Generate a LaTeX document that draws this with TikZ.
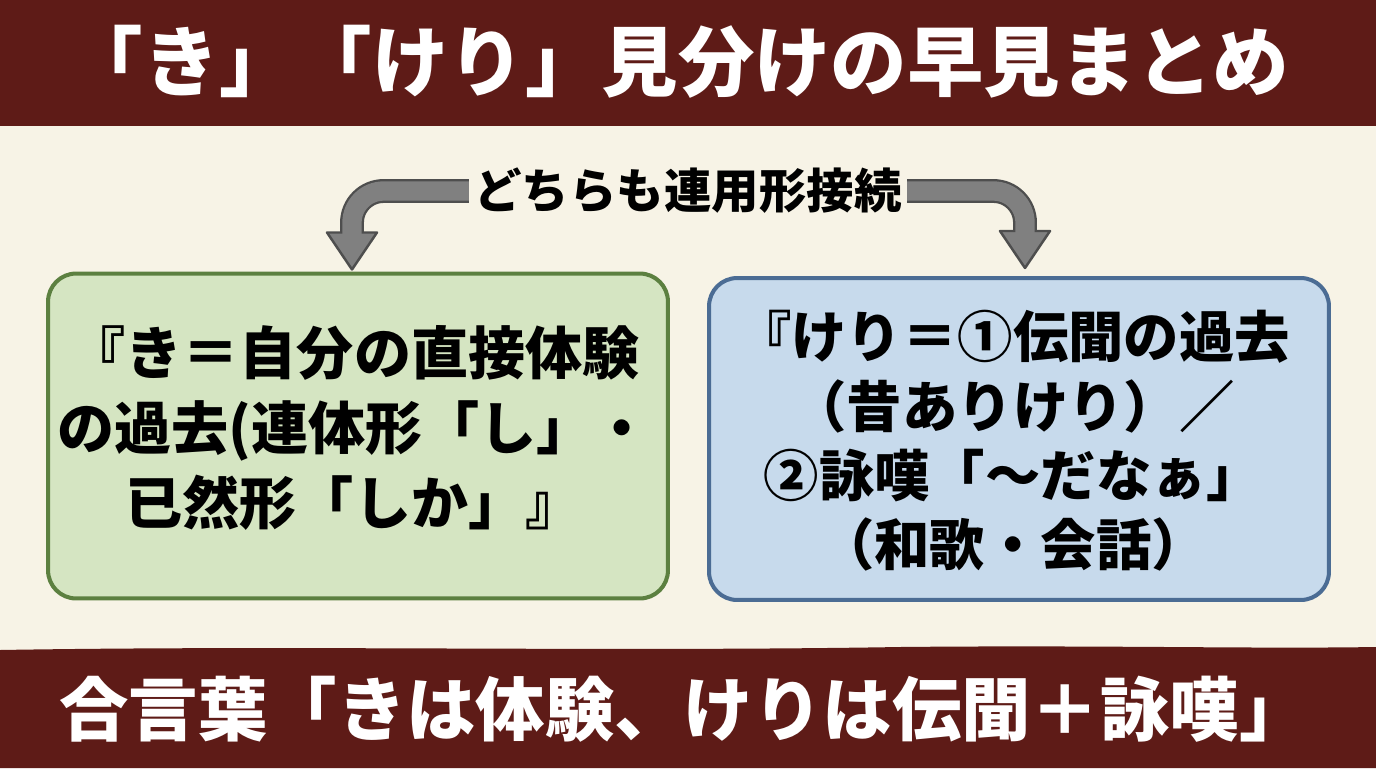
\documentclass[tikz,border=0pt]{standalone}
\usepackage{fontspec}
\setmainfont{Noto Sans CJK JP}
\usetikzlibrary{calc,positioning}

\definecolor{bandred}{HTML}{5E1B17}
\definecolor{paper}{HTML}{F7F3E6}
\definecolor{kifill}{HTML}{D5E5C2}
\definecolor{kiedge}{HTML}{5C8040}
\definecolor{kerifill}{HTML}{C7DAEC}
\definecolor{keriedge}{HTML}{4B6C94}
\definecolor{arrowgray}{HTML}{808080}
\definecolor{arrowedge}{HTML}{4E4E4E}

\tikzset{
	band/.style={fill=bandred},
	bandtext/.style={text=white, font=\bfseries\fontsize{43.5}{50}\selectfont},
	subtext/.style={font=\bfseries\fontsize{27}{32}\selectfont, inner sep=3pt},
	card/.style={draw, line width=2.3pt, rounded corners=16pt,
		minimum width=12.4cm, minimum height=6.5cm, inner sep=0pt},
	cardtext/.style={align=center, inner sep=0pt},
	shaftedge/.style={draw=arrowedge, line width=13.6pt, rounded corners=18pt},
	shaftfill/.style={draw=arrowgray, line width=11pt, rounded corners=18pt},
	tiphead/.style={fill=arrowgray, draw=arrowedge, line width=1.4pt, line join=round}
}

\begin{document}
\begin{tikzpicture}[x=0.02cm,y=-0.02cm]
	
	% --- Paper and bands
	\fill[paper] (0,0) rectangle (1376,768);
	\useasboundingbox (0,0) rectangle (1376,768);
	\fill[band] (0,0) rectangle (1376,126);
	\fill[band] (0,650) .. controls (300,645) and (600,652) .. (900,647)
		.. controls (1100,645) and (1250,649) .. (1376,647) -- (1376,768) -- (0,768) -- cycle;
	
	% --- Title and motto
	\node[bandtext] (title) at (678,62) {「き」「けり」見分けの早見まとめ};
	\node[bandtext, font=\bfseries\fontsize{39.5}{46}\selectfont] (motto) at (684,709)
		{合言葉「きは体験、けりは伝聞＋詠嘆」};
	
	% --- Common connection
	\node[subtext] (sub) at (688,191) {どちらも連用形接続};
	
	% --- Cards
	\node[card, draw=kiedge, fill=kifill] (kibox) at (358,436) {};
	\node[cardtext, font=\bfseries\fontsize{32.5}{42.5}\selectfont]
		(kitext) at ($(kibox.center)+(-4,-8)$)
		{『き＝自分の直接体験\\の過去(連体形「し」・\\已然形「しか」』};
	\node[card, draw=keriedge, fill=kerifill, minimum height=6.44cm]
		(keribox) at (1019,439) {};
	\node[cardtext, font=\bfseries\fontsize{31.5}{39.5}\selectfont]
		(keritext) at ($(keribox.center)+(-6,2)$)
		{『けり＝①伝聞の過去\\（昔ありけり）／\\②詠嘆「～だなぁ」\\（和歌・会話）};
	
	% --- Arrows from the label down to each card
	\coordinate (kitip) at ($(kibox.north)+(-6,-2)$);
	\coordinate (keritip) at ($(keribox.north)+(6,-8)$);
	\foreach \tip/\side in {kitip/west, keritip/east}{
		\draw[shaftedge] (sub.\side) -| ($(\tip)+(0,-37)$);
		\filldraw[tiphead] ($(\tip)+(-25,-37)$) -- (\tip) -- ($(\tip)+(25,-37)$) -- cycle;
		\draw[shaftfill] (sub.\side) -| ($(\tip)+(0,-35)$);
	}
	
\end{tikzpicture}
\end{document}
